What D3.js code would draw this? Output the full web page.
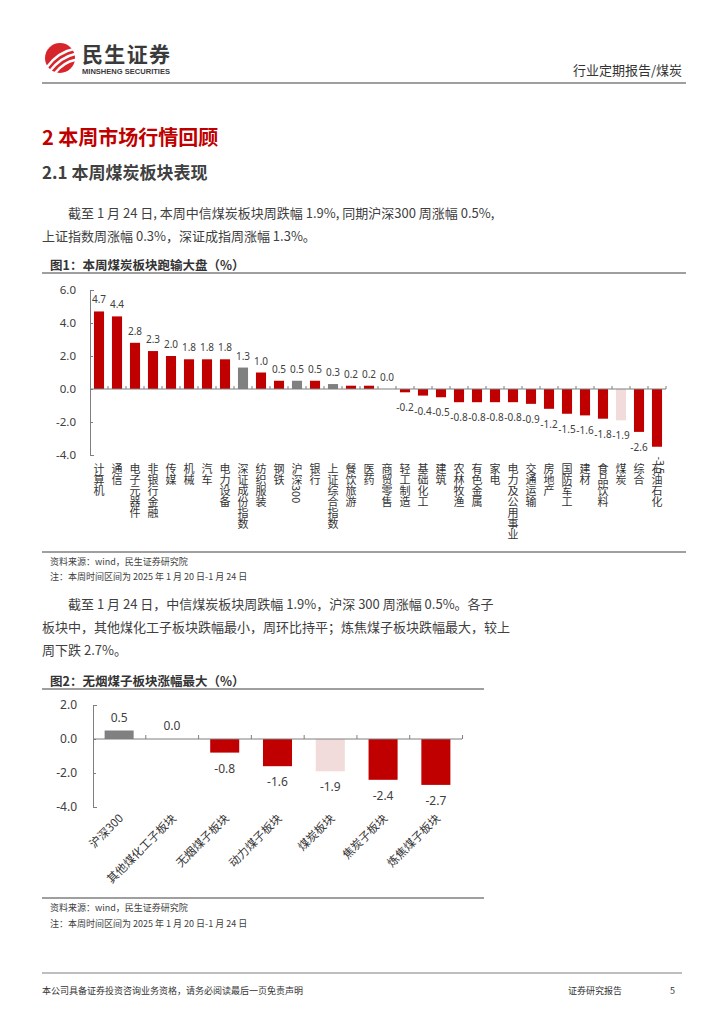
<!DOCTYPE html>
<html><head><meta charset="utf-8">
<script src="https://cdn.jsdelivr.net/npm/d3@7"></script>
<style>
body{margin:0;background:#fff;}
svg{display:block;font-family:"Noto Sans CJK SC","Noto Sans",sans-serif;}
</style></head>
<body><svg id="page" width="724" height="1024"></svg>
<script>
// ---- data ----
const cats1 = ["计算机","通信","电子元器件","非银行金融","传媒","机械","汽车","电力设备","深证成份指数","纺织服装","钢铁","沪深300","银行","上证综合指数","餐饮旅游","医药","商贸零售","轻工制造","基础化工","建筑","农林牧渔","有色金属","家电","电力及公用事业","交通运输","房地产","国防军工","建材","食品饮料","煤炭","综合","石油石化"];
const vals1 = [4.7,4.4,2.8,2.3,2.0,1.8,1.8,1.8,1.3,1.0,0.5,0.5,0.5,0.3,0.2,0.2,0.0,-0.2,-0.4,-0.5,-0.8,-0.8,-0.8,-0.8,-0.9,-1.2,-1.5,-1.6,-1.8,-1.9,-2.6,-3.5];
const ticks1 = [6,4,2,0,-2,-4];
const cats2 = ["沪深300","其他煤化工子板块","无烟煤子板块","动力煤子板块","煤炭板块","焦炭子板块","炼焦煤子板块"];
const vals2 = [0.5,0.0,-0.8,-1.6,-1.9,-2.4,-2.7];
const ticks2 = [2,0,-2,-4];
const indexCats = ["深证成份指数","沪深300","上证综合指数"];
const coalCats = ["煤炭","煤炭板块"];

const RED="#C00000", GRAY="#808080", PINK="#F2DCDB", TXT="#404040";
const colorOf = c => indexCats.includes(c) ? GRAY : (coalCats.includes(c) ? PINK : RED);
const fmt = v => v.toFixed(1);

const svg = d3.select("#page");

// ---- header ----
const logo = svg.append("g");
logo.append("circle").attr("cx",60).attr("cy",58).attr("r",15).attr("fill","#D7262B");
[[47,67,58,52,74,49],[50,71,61,57,75,54],[55,73,64,62,75,60]].forEach(p=>{
  logo.append("path").attr("d",`M${p[0]},${p[1]} Q${p[2]},${p[3]} ${p[4]},${p[5]}`)
    .attr("fill","none").attr("stroke","#fff").attr("stroke-width",2.4).attr("stroke-linecap","round");
});
svg.append("text").attr("x",82).attr("y",62).attr("font-size",21).attr("font-weight",700).attr("fill","#3a3a3a")
  .attr("textLength",88).text("民生证券");
svg.append("text").attr("x",82).attr("y",73.5).attr("font-size",7).attr("font-weight",700).attr("fill","#3a3a3a")
  .attr("font-family","Liberation Sans, Arial, sans-serif").attr("textLength",88).attr("lengthAdjust","spacingAndGlyphs").text("MINSHENG SECURITIES");
svg.append("text").attr("x",682).attr("y",75).attr("text-anchor","end").attr("font-size",13).attr("fill","#333").text("行业定期报告/煤炭");
svg.append("line").attr("x1",42).attr("x2",686).attr("y1",83).attr("y2",83).attr("stroke","#7f7f7f").attr("stroke-width",1.5);

// ---- headings ----
svg.append("text").attr("x",42).attr("y",145).attr("font-size",20).attr("font-weight",700).attr("fill",RED).text("2 本周市场行情回顾");
svg.append("text").attr("x",42).attr("y",179).attr("font-size",17).attr("font-weight",700).attr("fill","#404040").text("2.1 本周煤炭板块表现");

function para(x,y,str){
  svg.append("text").attr("x",x).attr("y",y).attr("font-size",13).attr("fill",TXT).text(str);
}
para(68,218,"截至 1 月 24 日, 本周中信煤炭板块周跌幅 1.9%, 同期沪深300 周涨幅 0.5%,");
para(42,241,"上证指数周涨幅 0.3%，深证成指周涨幅 1.3%。");

// ---- chart 1 ----
svg.append("text").attr("x",50).attr("y",270).attr("font-size",12.5).attr("font-weight",700).attr("fill","#333").text("图1：本周煤炭板块跑输大盘（%）");
svg.append("line").attr("x1",42).attr("x2",686).attr("y1",273).attr("y2",273).attr("stroke","#7f7f7f").attr("stroke-width",1.5);

const x1 = d3.scaleBand().domain(cats1).range([90,666]).paddingInner(0.44).paddingOuter(0.22);
const y1 = d3.scaleLinear().domain([-4,6]).range([455,290]);
const g1 = svg.append("g");
g1.append("g").attr("transform","translate(90,0)")
  .call(d3.axisLeft(y1).tickValues(ticks1).tickFormat(fmt).tickSizeInner(-3).tickSizeOuter(-4).tickPadding(14))
  .call(g=>{g.selectAll("path,line").attr("stroke","#7f7f7f");g.selectAll("text").attr("font-size",11.5).attr("fill",TXT).attr("font-family","Noto Sans, sans-serif");});
g1.selectAll("rect.b").data(cats1).join("rect")
  .attr("x",d=>x1(d)).attr("width",x1.bandwidth())
  .attr("y",(d,i)=>y1(Math.max(0,vals1[i]))).attr("height",(d,i)=>Math.abs(y1(vals1[i])-y1(0)))
  .attr("fill",d=>colorOf(d));
const step1 = x1.step();
g1.append("line").attr("x1",90).attr("x2",666).attr("y1",y1(0)).attr("y2",y1(0)).attr("stroke","#7f7f7f");
g1.selectAll("line.t").data(d3.range(1,cats1.length+1)).join("line")
  .attr("x1",i=>90+i*step1).attr("x2",i=>90+i*step1).attr("y1",y1(0)).attr("y2",y1(0)-3).attr("stroke","#7f7f7f");
const last1 = cats1.length-1;
g1.selectAll("text.v").data(cats1).join("text")
  .attr("font-size",10).attr("fill",TXT).attr("font-family","Noto Sans, sans-serif")
  .attr("transform",(d,i)=>{
    const cx = x1(d)+x1.bandwidth()/2, v = vals1[i];
    if(v>=0) return `translate(${cx},${y1(v)-8})`;
    if(i===last1) return `translate(${cx+2},${y1(v)+10}) rotate(90)`;
    return `translate(${cx},${y1(v)+19})`;
  })
  .attr("text-anchor",(d,i)=> i===last1 ? "start" : "middle")
  .attr("dy",(d,i)=> i===last1 ? "0.35em" : 0)
  .text((d,i)=>fmt(vals1[i]));
// vertical category labels (one text each, vertical writing mode)
g1.selectAll("text.c").data(cats1).join("text")
  .attr("x",d=>x1(d)+x1.bandwidth()/2).attr("y",463)
  .attr("font-size",11).attr("fill","#333")
  .style("writing-mode","vertical-rl")
  .text(d=>d);
svg.append("line").attr("x1",42).attr("x2",686).attr("y1",552).attr("y2",552).attr("stroke","#7f7f7f").attr("stroke-width",1.5);
svg.append("text").attr("x",50).attr("y",565).attr("font-size",9).attr("fill",TXT).text("资料来源：wind，民生证券研究院");
svg.append("text").attr("x",50).attr("y",580).attr("font-size",9).attr("fill",TXT).text("注：本周时间区间为 2025 年 1 月 20 日-1 月 24 日");

// ---- paragraph 2 ----
para(68,609,"截至 1 月 24 日，中信煤炭板块周跌幅 1.9%，沪深 300 周涨幅 0.5%。各子");
para(42,632,"板块中，其他煤化工子板块跌幅最小，周环比持平；炼焦煤子板块跌幅最大，较上");
para(42,655,"周下跌 2.7%。");

// ---- chart 2 ----
svg.append("text").attr("x",50).attr("y",686).attr("font-size",12.5).attr("font-weight",700).attr("fill","#333").text("图2：无烟煤子板块涨幅最大（%）");
svg.append("line").attr("x1",42).attr("x2",484).attr("y1",689).attr("y2",689).attr("stroke","#7f7f7f").attr("stroke-width",1.5);

const x2 = d3.scaleBand().domain(cats2).range([93,462]).paddingInner(0.45).paddingOuter(0.22);
const y2 = d3.scaleLinear().domain([-4,2]).range([807,705]);
const g2 = svg.append("g");
g2.append("g").attr("transform","translate(93,0)")
  .call(d3.axisLeft(y2).tickValues(ticks2).tickFormat(fmt).tickSizeInner(-3).tickSizeOuter(-4).tickPadding(16))
  .call(g=>{g.selectAll("path,line").attr("stroke","#7f7f7f");g.selectAll("text").attr("font-size",12).attr("fill",TXT).attr("font-family","Noto Sans, sans-serif");});
g2.selectAll("rect.b").data(cats2).join("rect")
  .attr("x",d=>x2(d)).attr("width",x2.bandwidth())
  .attr("y",(d,i)=>y2(Math.max(0,vals2[i]))).attr("height",(d,i)=>Math.abs(y2(vals2[i])-y2(0)))
  .attr("fill",d=>colorOf(d));
const step2 = x2.step();
g2.append("line").attr("x1",93).attr("x2",462).attr("y1",y2(0)).attr("y2",y2(0)).attr("stroke","#7f7f7f");
g2.selectAll("line.t").data(d3.range(1,cats2.length+1)).join("line")
  .attr("x1",i=>93+i*step2).attr("x2",i=>93+i*step2).attr("y1",y2(0)).attr("y2",y2(0)-4).attr("stroke","#7f7f7f");
g2.selectAll("text.v").data(cats2).join("text")
  .attr("x",d=>x2(d)+x2.bandwidth()/2)
  .attr("y",(d,i)=> vals2[i]>=0 ? y2(vals2[i])-9 : y2(vals2[i])+20)
  .attr("font-size",12).attr("fill",TXT).attr("text-anchor","middle").attr("font-family","Noto Sans, sans-serif")
  .text((d,i)=>fmt(vals2[i]));
g2.selectAll("text.c").data(cats2).join("text")
  .attr("transform",d=>`translate(${x2(d)+x2.bandwidth()/2+5},${819}) rotate(-45)`)
  .attr("text-anchor","end").attr("font-size",11.5).attr("fill","#333")
  .text(d=>d);
svg.append("line").attr("x1",42).attr("x2",484).attr("y1",898).attr("y2",898).attr("stroke","#7f7f7f").attr("stroke-width",1.5);
svg.append("text").attr("x",50).attr("y",911).attr("font-size",9).attr("fill",TXT).text("资料来源：wind，民生证券研究院");
svg.append("text").attr("x",50).attr("y",927).attr("font-size",9).attr("fill",TXT).text("注：本周时间区间为 2025 年 1 月 20 日-1 月 24 日");

// ---- footer ----
svg.append("line").attr("x1",42).attr("x2",682).attr("y1",973).attr("y2",973).attr("stroke","#7f7f7f").attr("stroke-width",1.2);
svg.append("text").attr("x",42).attr("y",994).attr("font-size",9).attr("fill","#333").text("本公司具备证券投资咨询业务资格，请务必阅读最后一页免责声明");
svg.append("text").attr("x",568).attr("y",994).attr("font-size",9).attr("fill","#333").text("证券研究报告");
svg.append("text").attr("x",670).attr("y",994).attr("font-size",9).attr("fill","#333").text("5");
</script></body></html>
